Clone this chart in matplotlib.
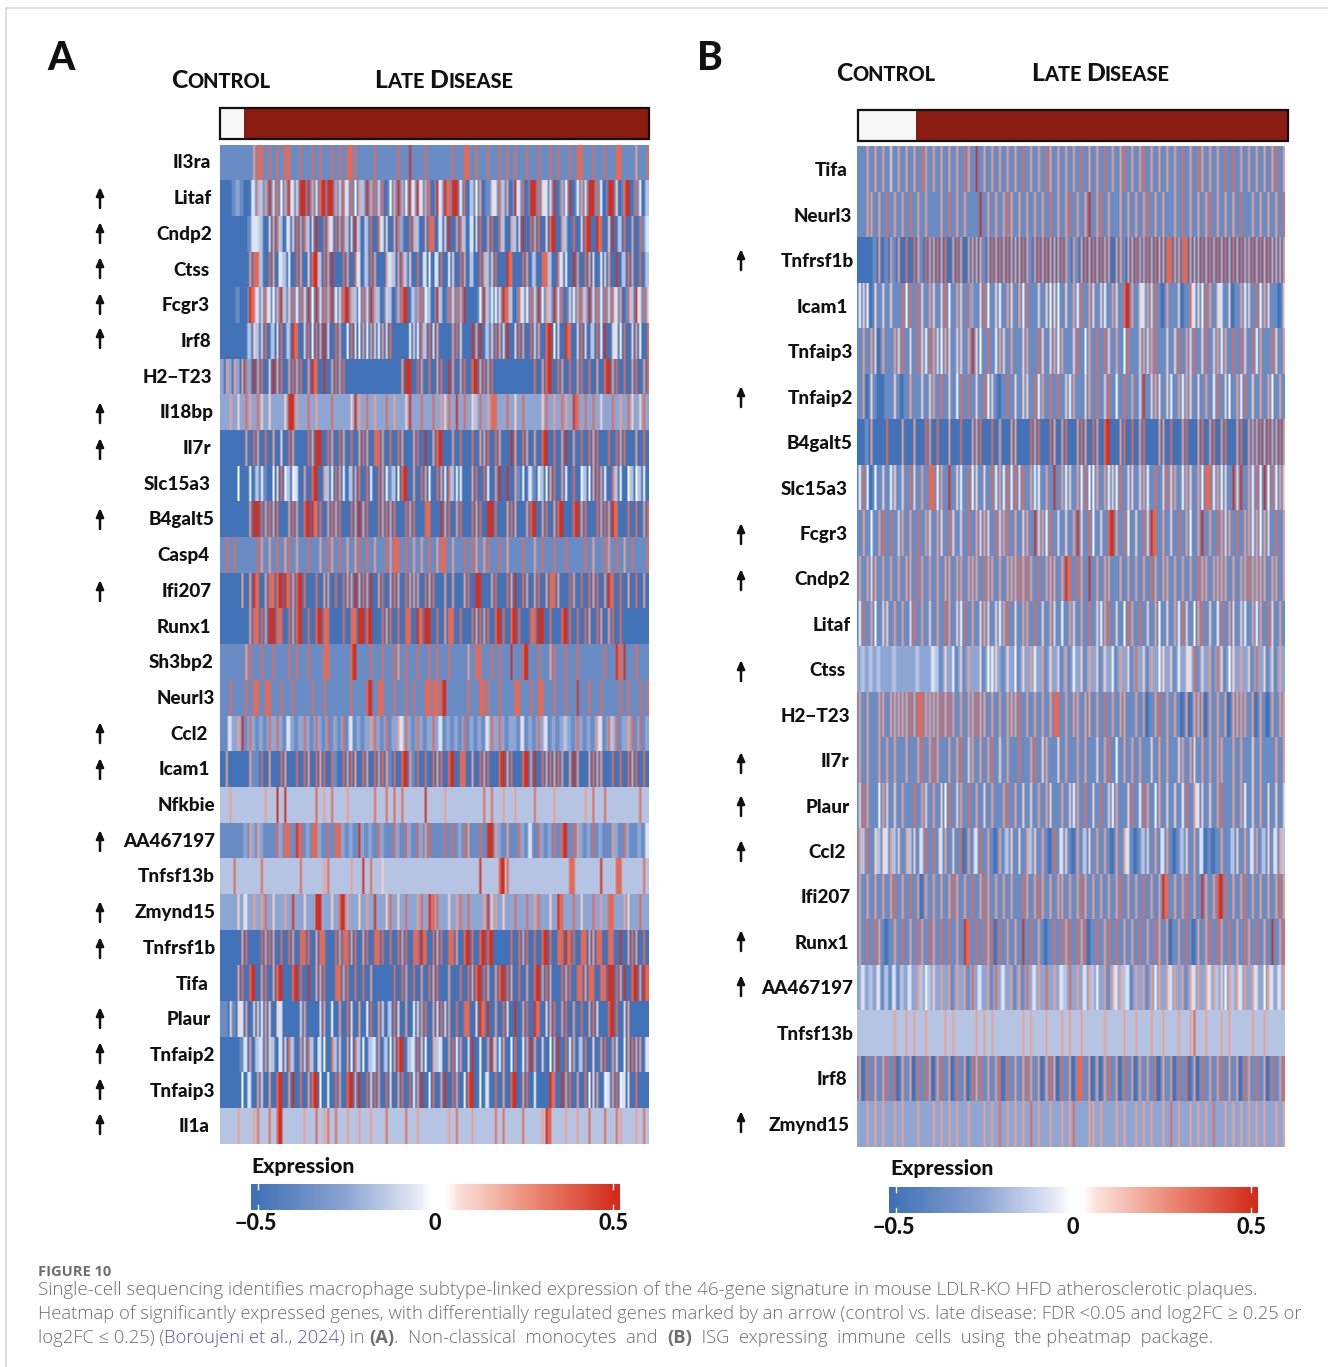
import numpy as np
import matplotlib
matplotlib.use("Agg")
import matplotlib.pyplot as plt
from matplotlib.colors import LinearSegmentedColormap
from matplotlib.patches import Rectangle

# ---------- data: peak level (0-9) hand-estimated in each ~4 px bin ----------
genes_a = ["Il3ra","Litaf","Cndp2","Ctss","Fcgr3","Irf8","H2\u2212T23","Il18bp","Il7r","Slc15a3","B4galt5","Casp4","Ifi207","Runx1","Sh3bp2","Neurl3","Ccl2","Icam1","Nfkbie","AA467197","Tnfsf13b","Zmynd15","Tnfrsf1b","Tifa","Plaur","Tnfaip2","Tnfaip3","Il1a"]
arrows_a = ["Litaf","Cndp2","Ctss","Fcgr3","Irf8","Il18bp","Il7r","B4galt5","Ifi207","Ccl2","Icam1","AA467197","Zmynd15","Tnfrsf1b","Plaur","Tnfaip2","Tnfaip3","Il1a"]
genes_b = ["Tifa","Neurl3","Tnfrsf1b","Icam1","Tnfaip3","Tnfaip2","B4galt5","Slc15a3","Fcgr3","Cndp2","Litaf","Ctss","H2\u2212T23","Il7r","Plaur","Ccl2","Ifi207","Runx1","AA467197","Tnfsf13b","Irf8","Zmynd15"]
arrows_b = ["Tnfrsf1b","Tnfaip2","Fcgr3","Cndp2","Ctss","Il7r","Plaur","Ccl2","Runx1","AA467197","Zmynd15"]

levels_a = [
"1111111178 8181818811 8118181181 8188811118 1111181191 1181111118 1188181181 1818181181 1811818118 1881181181 1881117118",
"0001210047 3796857946 9997689997 6848573978 6805797594 9478094989 9580357016 4837094809 9864690759 0576998509 9608908503",
"0000000144 3067830468 7836908748 7836930380 8460782087 3078804690 7830468078 0830736908 7806890730 8068909806 9038070814",
"0000000788 3087043508 7068938790 0870840387 0074378360 8045048056 0870308736 8009800870 3088308450 9708760567 0903870803",
"0000100984 6845793685 8695968795 6897358697 3063078903 7853093086 8790005935 5698308458 6957396806 5783968586 8470839486",
"0000000363 6803680398 0685879608 7058657576 5768000056 5838670007 8600979036 8769068708 6708956098 0686038590 6458067508",
"2727278297 8069780787 8079809078 7800000000 0000007990 8708078097 0780897878 0000000000 8078908708 0780807089 7808078078",
"2272628728 6262226997 2282722282 2226972827 2282722692 2822827682 9282638278 8228262822 2268272872 9828282622 8272862682",
"0000007087 0807060870 0087990870 8708078708 8708087007 8090789007 0800807780 8700970870 7089080790 7080878008 0878007080",
"0000500503 5105685354 0708907358 7503780850 8751358907 0875087583 5500780850 7909071504 1535780750 8053578750 8350535350",
"0000000799 8787800787 0899880787 8008797800 8787800878 0088009780 7800878099 8007870078 9078078900 8978008787 9800808078",
"1818111118 7171817817 1181171871 8171781817 1187881817 1718178817 1181871781 1817111811 7181181181 1118171187 1817181118",
"0000070798 0788899878 9800807708 0877978790 7807870877 7087800707 0078099007 8008790870 7807887008 7080878079 8080708070",
"0000000788 8799880878 9080898800 0808899890 0878080880 9899080788 0800878780 8980898008 8990800898 0808708707 8080000000",
"1111117811 8118111818 1181118811 1118911181 1811871811 8118181181 1117188118 1811911891 1811781181 1811111181 1989118111",
"1181118188 1881181181 1118118111 1118111891 8811811818 1188888911 1118118881 1811188118 1881181181 1911811811 1181811818",
"1142791821 2182821421 2821821812 1814121278 2181274821 8212824121 2181212148 2821221412 1824121232 1821217418 3812781812",
"0700000711 8070087008 0870878081 0878708708 7871808971 8080878089 0880708780 0897800897 9087878707 9700787700 8080878080",
"3373333333 3733939333 3333837383 3373333338 3383838333 3393333733 3333333838 3373373333 8333373333 3337383383 3333333833",
"1111112727 2111828819 8128821818 8212192121 8211821821 8278111818 1287118199 7217118214 1821281891 8721281211 7218211214",
"3338333333 8333333333 8333337833 3337339383 3633333333 3333333333 3333339333 3898333333 3333333338 8333333933 3883333383",
"2222624272 7826227292 2622992262 8972262729 2268262822 7829882262 7828222796 7262282282 7822629822 8262282728 8227622822",
"0000078000 8787080870 8880788008 7887807808 8808087808 8980878088 7089808989 0000808780 8089808898 8088778808 8090787080",
"0000780890 7807890089 8090778008 8780808070 0000808708 0708780070 0808789870 7898708070 8978700878 0887880889 9879089798",
"1161647066 5760640000 6700067050 7086070580 7603860705 6780768670 8088069890 7086090780 9806780780 7080786008 9806700000",
"0000014703 4763046830 7683045083 6075835034 7035789034 8650734078 5706905079 3570580579 7060579085 7038060780 7605787704",
"0000050407 6070890790 8078950508 7089790868 7086078085 7905807908 7058905040 8070890780 5000980978 0708567054 7854608000",
"3333733378 3383893333 3733837838 3373373373 3383333833 7333333373 8333733333 8383333833 3379833373 3733833383 3873337383",
]
levels_b = [
"1171717161 7171718717 1717171871 9171717171 7181717187 1717171817 1718171781 7178171717 1718171871 7171818171 7171717817",
"1177171817 1718171711 1718171711 1917171787 1717171718 1717817179 1781711717 1717817171 1718171717 8171717181 1717171718",
"0000170171 7080871877 8780787077 7717878787 7787178787 7787171787 8787707717 7877878778 8778877787 8787878787 7878787777",
"5650616161 1858186176 1685176182 1685165176 1758116165 6516175817 6165176189 7164768107 1160184658 7164160175 6185761106",
"1717607117 6816186587 6576166179 6518157617 1167118616 7571168157 1818617158 1167678116 1681768168 1675718186 1857118617",
"1706100116 1017116167 1816158181 6185610181 6166185718 1816571167 1816815181 7169167616 5175761617 1581651758 1617175171",
"0017000800 0700700870 8007008007 7800807007 7000878008 7078007870 8708900780 8078000770 8007800780 7807800780 7778787787",
"5850516156 1618617188 5719165185 6161857585 8681755171 9175617585 5717565816 6167518168 6715761758 8575619691 7585958576",
"1715178181 6717181761 7618616181 7676186781 7167196758 1616179618 5161897185 1618698171 6181751791 7187671817 7575761817",
"7176717171 7177187171 7177177177 7187717177 7878718177 7179818719 1717711717 1717187177 1717171877 1777717177 8777717717",
"5817516617 1716817161 7187165817 1676165781 6177181617 6151761718 1657816158 7181617516 1758615781 6158176165 1757186171",
"2323232223 2222232224 3162516172 2615562162 5162752716 2617152617 2616251726 1826172562 6152648162 7186156272 6182616172",
"7171177177 7778788777 7878717177 8771717177 7817171717 8817177177 1718171771 1717017817 1710707770 7171707777 1707107177",
"7171171717 1171178178 7117178167 1717816171 1811781671 1617117171 1617815171 7171161717 1167176171 7177117171 1617111717",
"6871157616 1711817617 1658167181 7161711781 7161617176 1171657181 6181657116 8158715716 1615817461 6178117175 1617161616",
"7381636473 6173614818 1471618071 4817107136 1617361710 8146107136 1717107174 1013617147 1013617140 1017113617 1471361473",
"7171717178 1718170717 1717871718 1787171717 1187178717 1771717871 7171717817 1718171798 1717817197 1789817178 1717171787",
"7181871017 1817187187 1818171981 8187808171 7191817101 8187818780 1817818171 7181718717 0171810717 8187181718 7181719178",
"2423241314 1324273536 2727172718 2427182427 1718247282 7243827247 3527174734 1727175727 4727174727 4736573747 2742574247",
"3333333337 3373733733 3373733333 7373733333 3373733373 3373733733 3337333373 3733373373 3373378337 3337373333 3733733333",
"7081717818 0717081870 7817081708 7817178081 7178717078 7081708817 0707817081 7071718071 7081807081 7178171708 7181708178",
"2272727227 2722272227 2727272272 2272728272 7272827227 2272782227 7272227272 2727272272 8272272727 2822727272 7272722727",
]
total_columns = 110
tick_values = [-0.5, 0.0, 0.5]
tick_labels = ["\u22120.5", "0", "0.5"]
level_values = [-0.5, -0.37, -0.25, -0.16, -0.07, 0.0, 0.1, 0.22, 0.35, 0.5]

def decode(rows, n=total_columns):
    """Each bin holds a thin stripe at its peak level next to the row's background level;
    a pair of neighbouring hot bins merges into one wide stripe."""
    out = []
    for r in rows:
        d = [int(c) for c in r.replace(" ", "")]
        idx = (np.arange(n) * len(d) / n).astype(int)
        v = np.array([level_values[d[i]] for i in idx])
        neg = v[v < 0]
        base = np.median(neg) if len(neg) else -0.3
        sub = np.repeat(v, 2)
        merged = False
        for j in range(n):
            hot_pair = j > 0 and v[j - 1] >= 0.35 and v[j] >= 0.35 and not merged
            merged = hot_pair
            if v[j] >= 0 and not hot_pair:
                sub[2 * j] = base
        out.append(sub)
    return np.array(out)

# ---------- layout ----------
W, H = 1328, 1367
plt.rcParams["font.family"] = ["Lato", "DejaVu Sans"]
fig = plt.figure(figsize=(W/100, H/100), dpi=100)
ax = fig.add_axes([0, 0, 1, 1])
ax.set_axis_off()
ax.set_xlim(0, W)
ax.set_ylim(H, 0)
ax.set_autoscale_on(False)

cmap = LinearSegmentedColormap.from_list("expr", [
    (0.00, "#3f6fb6"), (0.02, "#4474b8"), (0.25, "#8ba3d2"), (0.44, "#dfe5f3"),
    (0.49, "#ffffff"), (0.53, "#ffffff"), (0.56, "#fbe3dc"), (0.75, "#ee8f7b"),
    (0.98, "#d5301f"), (1.00, "#d42a1c")])
VMIN, VMAX = -0.52, 0.52
TXT = "#111111"
HEAVY = 900

renderer = fig.canvas.get_renderer()

def frags(x, y, parts, **kw):
    for s, opts in parts:
        o = dict(kw); o.update(opts)
        t = ax.text(x, y, s, va="baseline", ha="left", **o)
        x = t.get_window_extent(renderer).x1
    return x

def panel(data, genes, arrows, x0, x1, y0, y1, bar, ctrl_x, label_r, label_y, row_pitch,
          arrow_x, arrow_ys, cb, cb_y, cb_lab_y, expr_xy):
    n = len(genes)
    h = (y1 - y0) / n
    for i in range(n):
        ax.imshow(data[i][None, :], extent=(x0, x1, y0 + (i + 1) * h, y0 + i * h), cmap=cmap,
                  vmin=VMIN, vmax=VMAX, aspect="auto", interpolation="bilinear",
                  interpolation_stage="rgba")
    for i, g in enumerate(genes):
        ax.text(label_r[i], label_y + i * row_pitch + 1, g, ha="right", va="center",
                fontsize=13.6, fontweight=HEAVY, color=TXT)
    for g, ay in zip(arrows, arrow_ys):
        ax.annotate("", xy=(arrow_x, ay - 11), xytext=(arrow_x, ay + 10),
                    arrowprops=dict(arrowstyle="-|>,head_width=0.22,head_length=0.5",
                                    lw=1.8, color=TXT, shrinkA=0, shrinkB=0))
    bx0, bx1, by0, by1 = bar
    ax.add_patch(Rectangle((bx0, by0), ctrl_x - bx0, by1 - by0, fc="#f8f8f8", ec="none"))
    ax.add_patch(Rectangle((ctrl_x, by0), bx1 - ctrl_x, by1 - by0, fc="#8a1c12", ec="none"))
    ax.add_patch(Rectangle((bx0, by0), bx1 - bx0, by1 - by0, fc="none", ec="#111111", lw=1.6))
    c0, c1 = cb
    grad = np.linspace(VMIN, VMAX, 256)[None, :]
    ax.imshow(grad, extent=(c0, c1, cb_y[1], cb_y[0]), cmap=cmap, vmin=VMIN, vmax=VMAX, aspect="auto")
    px = lambda v: c0 + (v - VMIN) / (VMAX - VMIN) * (c1 - c0)
    for v in (-0.5, 0.5):
        ax.plot([px(v), px(v)], [cb_y[0], cb_y[0] + 5], color="white", lw=1)
        ax.plot([px(v), px(v)], [cb_y[1] - 5, cb_y[1]], color="white", lw=1)
    for v, l, off in zip(tick_values, tick_labels, (-2, -1, 1)):
        ax.text(px(v) + off, cb_lab_y + 1, l, ha="center", va="center",
                fontsize=15.5, fontweight=HEAVY, color=TXT)
    ax.text(expr_xy[0], expr_xy[1] + 1, "Expression", ha="left", va="center",
            fontsize=15.2, fontweight=HEAVY, color=TXT)

label_r_a = [211,212,212,209,210,211,212,214,211,211,214,209,212,211,213,215,208,210,215,215,215,216,216,209,211,215,215,210]
label_r_b = [848,852,854,848,853,853,853,848,848,850,851,845,850,849,850,846,851,849,853,854,847,850]
arrow_y_a = [198,233,268,304,338,413,449,519,591,733,769,841,912,948,1018,1053,1089,1124]
arrow_y_b = [260,397,534,580,671,763,806,851,941,986,1122]

panel(decode(levels_a), genes_a, arrows_a, 220, 649, 145, 1144, (220, 649, 108, 139), 244,
      label_r_a, 162, 35.7, 100, arrow_y_a, (251, 620), (1184, 1210), 1223, (251, 1165))
panel(decode(levels_b), genes_b, arrows_b, 857, 1285, 147, 1147, (858, 1288, 110, 141), 916,
      label_r_b, 170, 45.43, 741, arrow_y_b, (889, 1258), (1187, 1213), 1226, (890, 1168))

ax.text(47, 70, "A", fontsize=28, fontweight=HEAVY, color=TXT, va="baseline")
ax.text(697, 70, "B", fontsize=28, fontweight=HEAVY, color=TXT, va="baseline")
big = dict(fontsize=17.8, fontweight=HEAVY, color=TXT)
small = dict(fontsize=14.4, fontweight=HEAVY, color=TXT)
def smallcaps(x, y, s):
    parts = []
    for w_i, w in enumerate(s.split(" ")):
        if w_i:
            parts.append((" ", small))
        parts.append((w[0], big))
        parts.append((w[1:].upper(), small))
    frags(x, y, parts)
smallcaps(171, 88, "Control")
smallcaps(374, 88, "Late Disease")
smallcaps(836, 81, "Control")
smallcaps(1031, 81, "Late Disease")

ax.plot([6, 6], [H, 8], color="#d9d9d9", lw=1.2)
ax.plot([6, W], [8, 8], color="#d9d9d9", lw=1.2)

gray = "#6e6e6e"
cap = dict(color=gray, family=["Open Sans", "DejaVu Sans"], fontweight="light")
ax.text(38, 1276, "FIGURE 10", fontsize=10.5, fontweight="bold", color=gray,
        family=["Open Sans", "DejaVu Sans"], va="baseline")
frags(38, 1295, [("Single-cell sequencing identifies macrophage subtype-linked expression of the 46-gene signature in mouse LDLR-KO HFD atherosclerotic plaques.", {})], fontsize=13.48, **cap)
frags(38, 1319, [("Heatmap of significantly expressed genes, with differentially regulated genes marked by an arrow (control vs. late disease: FDR <0.05 and log2FC \u2265 0.25 or", {})], fontsize=13.2, **cap)
frags(38, 1343, [("log2FC \u2264 0.25) (", {}), ("Boroujeni et al., 2024", {"color": "#5a55b0"}), (") in ", {}),
                 ("(A)", {"fontweight": "bold"}), (".  Non-classical  monocytes  and  ", {}),
                 ("(B)", {"fontweight": "bold"}), ("  ISG  expressing  immune  cells  using  the pheatmap  package.", {})], fontsize=13.2, **cap)

fig.savefig("out.png", dpi=100, facecolor="white")
